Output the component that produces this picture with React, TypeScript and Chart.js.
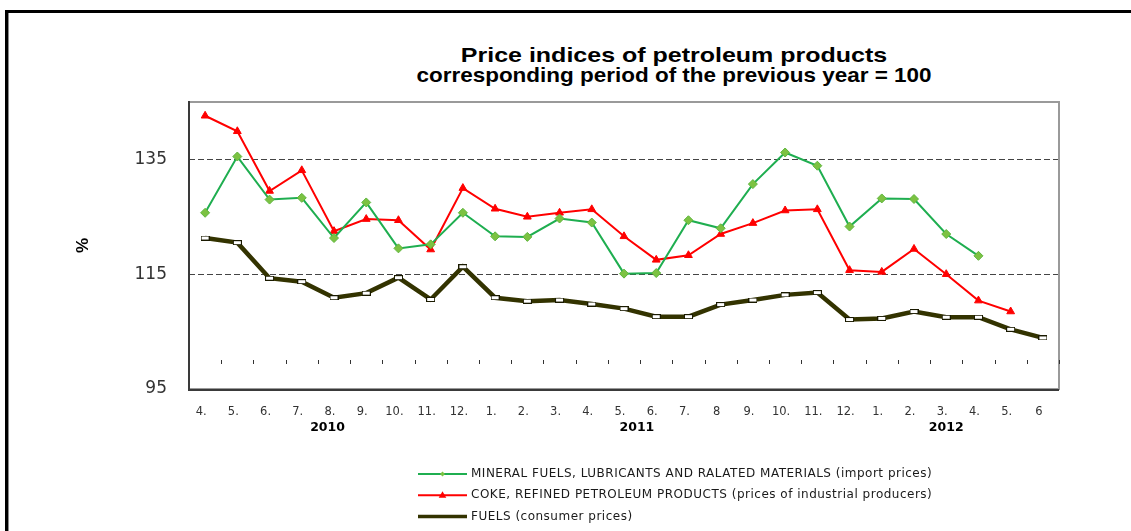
import React, { useEffect, useRef } from 'react';
import { Chart, registerables } from 'chart.js';

Chart.register(...registerables);

// ---- data ----
const categories = ['4.', '5.', '6.', '7.', '8.', '9.', '10.', '11.', '12.', '1.', '2.', '3.', '4.', '5.', '6.', '7.', '8', '9.', '10.', '11.', '12.', '1.', '2.', '3.', '4.', '5.', '6'];
const mineralFuels = [125.7, 135.5, 128.0, 128.3, 121.3, 127.5, 119.5, 120.2, 125.7, 121.6, 121.5, 124.7, 124.0, 115.1, 115.2, 124.4, 123.0, 130.7, 136.2, 133.9, 123.3, 128.2, 128.1, 122.0, 118.2, null, null];
const cokeRefined = [142.6, 139.9, 129.5, 133.1, 122.5, 124.6, 124.4, 119.3, 130.0, 126.4, 125.0, 125.7, 126.3, 121.6, 117.5, 118.3, 122.0, 123.9, 126.1, 126.3, 115.7, 115.4, 119.4, 115.0, 110.4, 108.5, null];
const fuelsConsumer = [121.3, 120.5, 114.3, 113.7, 110.9, 111.7, 114.4, 110.6, 116.3, 110.9, 110.3, 110.5, 109.8, 109.0, 107.6, 107.6, 109.7, 110.5, 111.4, 111.8, 107.1, 107.3, 108.5, 107.5, 107.5, 105.4, 103.9];
const seriesLabels = [
  'MINERAL FUELS, LUBRICANTS AND RALATED MATERIALS (import prices)',
  'COKE, REFINED PETROLEUM PRODUCTS (prices of industrial producers)',
  'FUELS (consumer prices)',
];
const yTicks = [95, 115, 135];
const yMin = 95;
const yMax = 145;
const axisCrossing = 100;
const years = ['2010', '2011', '2012'];
const yearCenters = [3.8, 13.4, 23.0];
const titleLines = ['Price indices of petroleum products', 'corresponding period of the previous year = 100'];
const yAxisTitle = '%';

function makeRectMarker() {
  const c = document.createElement('canvas');
  c.width = 9;
  c.height = 5;
  const ctx = c.getContext('2d')!;
  ctx.fillStyle = '#ffffff';
  ctx.fillRect(1, 1, 7, 3);
  ctx.strokeStyle = '#1a1a00';
  ctx.lineWidth = 1;
  ctx.strokeRect(0.5, 0.5, 8, 4);
  return c;
}

const decorPlugin = {
  id: 'decor',
  beforeDatasetsDraw(chart: any) {
    const { ctx, chartArea: a, scales } = chart;
    const xs = scales.x;
    const ys = scales.y;
    ctx.save();
    // plot border
    ctx.strokeStyle = '#9a9a9a';
    ctx.lineWidth = 2;
    ctx.strokeRect(a.left, a.top, a.right - a.left, a.bottom - a.top);
    ctx.strokeStyle = '#3a3a3a';
    ctx.beginPath();
    ctx.moveTo(a.left, a.top - 1);
    ctx.lineTo(a.left, a.bottom + 1);
    ctx.lineTo(a.right, a.bottom + 1);
    ctx.stroke();
    // category boundary ticks on the crossing axis
    const yc = Math.round(ys.getPixelForValue(axisCrossing));
    ctx.strokeStyle = '#333';
    ctx.lineWidth = 1;
    for (let i = 1; i <= categories.length; i++) {
      const px = Math.round(xs.getPixelForValue(i - 0.5)) + 0.5;
      ctx.beginPath();
      ctx.moveTo(px, yc);
      ctx.lineTo(px, yc + 4);
      ctx.stroke();
    }
    ctx.restore();
  },
  afterDraw(chart: any) {
    const { ctx, chartArea: a, scales } = chart;
    const xs = scales.x;
    ctx.save();
    // year labels
    ctx.fillStyle = '#000';
    ctx.font = 'bold 12.5px "DejaVu Sans"';
    ctx.textAlign = 'center';
    ctx.textBaseline = 'middle';
    years.forEach((yr, i) => {
      ctx.fillText(yr, xs.getPixelForValue(yearCenters[i]), a.bottom + 38.5);
    });
    // legend
    const lx = 418;
    const sw = 49;
    const tx = 471;
    const y0 = 474;
    const dy = 21.3;
    chart.data.datasets.forEach((ds: any, i: number) => {
      const y = y0 + i * dy;
      ctx.strokeStyle = ds.borderColor;
      ctx.lineWidth = ds.legendLineWidth;
      ctx.beginPath();
      ctx.moveTo(lx, y);
      ctx.lineTo(lx + sw, y);
      ctx.stroke();
      const cx = lx + sw / 2;
      if (ds.pointStyle === 'rectRot') {
        const r = 2.5;
        ctx.fillStyle = ds.pointBackgroundColor;
        ctx.beginPath();
        ctx.moveTo(cx - r, y);
        ctx.lineTo(cx, y - r);
        ctx.lineTo(cx + r, y);
        ctx.lineTo(cx, y + r);
        ctx.closePath();
        ctx.fill();
      } else if (ds.pointStyle === 'triangle') {
        const r = 4;
        ctx.fillStyle = ds.pointBackgroundColor;
        ctx.beginPath();
        ctx.moveTo(cx, y - r);
        ctx.lineTo(cx + r * 0.95, y + r * 0.6);
        ctx.lineTo(cx - r * 0.95, y + r * 0.6);
        ctx.closePath();
        ctx.fill();
      }
      ctx.fillStyle = '#1a1a1a';
      ctx.font = '12px "DejaVu Sans"';
      (ctx as any).letterSpacing = '0.5px';
      ctx.textAlign = 'left';
      ctx.textBaseline = 'middle';
      ctx.fillText(ds.label, tx, y);
      (ctx as any).letterSpacing = '0px';
    });
    ctx.restore();
  },
};

export default function App() {
  const ref = useRef<HTMLCanvasElement>(null);

  useEffect(() => {
    const prevMargin = document.body.style.margin;
    document.body.style.margin = '0';
    Chart.defaults.font.family = '"DejaVu Sans", sans-serif';
    const rectMarker = makeRectMarker();
    const chart = new Chart(ref.current!, {
      type: 'line',
      data: {
        labels: categories,
        datasets: [
          {
            label: seriesLabels[0],
            data: mineralFuels,
            borderColor: '#1fae50',
            backgroundColor: '#7cc242',
            borderWidth: 2,
            pointStyle: 'rectRot',
            pointRadius: 4.5,
            pointBackgroundColor: '#7cc242',
            pointBorderColor: '#5db53c',
            pointBorderWidth: 1,
            tension: 0,
            legendLineWidth: 2,
          } as any,
          {
            label: seriesLabels[1],
            data: cokeRefined,
            borderColor: '#ff0000',
            backgroundColor: '#ff0000',
            borderWidth: 2,
            pointStyle: 'triangle',
            pointRadius: 4.5,
            pointBackgroundColor: '#ff0000',
            pointBorderColor: '#ff0000',
            pointBorderWidth: 1,
            tension: 0,
            legendLineWidth: 2,
          } as any,
          {
            label: seriesLabels[2],
            data: fuelsConsumer,
            borderColor: '#333300',
            backgroundColor: '#333300',
            borderWidth: 4.5,
            pointStyle: rectMarker,
            pointRadius: 4,
            tension: 0,
            legendLineWidth: 3.5,
          } as any,
        ],
      },
      options: {
        animation: false,
        responsive: false,
        devicePixelRatio: 1,
        layout: { padding: { left: 60, right: 72, top: 102, bottom: 92 } },
        plugins: {
          legend: { display: false },
          tooltip: { enabled: false },
          title: { display: false },
        },
        scales: {
          x: {
            type: 'category',
            offset: true,
            grid: { display: false, drawTicks: false, tickLength: 0 },
            border: { display: false },
            ticks: {
              autoSkip: false,
              maxRotation: 0,
              minRotation: 0,
              padding: 16,
              labelOffset: -4,
              color: '#333',
              font: { size: 11.5, family: '"DejaVu Sans"' },
            },
            afterFit: (s: any) => {
              s.height = 50;
            },
          },
          y: {
            type: 'linear',
            min: yMin,
            max: yMax,
            afterBuildTicks: (s: any) => {
              s.ticks = yTicks.map((v) => ({ value: v }));
            },
            afterFit: (s: any) => {
              s.width = 129;
            },
            grid: {
              drawTicks: false,
              tickLength: 0,
              lineWidth: 1,
              color: (c: any) => (c.tick && c.tick.value === yMin ? 'rgba(0,0,0,0)' : '#444'),
            },
            border: { display: false, dash: [6, 3] },
            ticks: {
              padding: 22,
              color: '#333',
              font: { size: 17, family: '"DejaVu Sans"' },
            },
            title: {
              display: true,
              text: yAxisTitle,
              color: '#000',
              padding: { top: 13, bottom: 0 },
              font: { size: 17, weight: 'bold', family: '"Liberation Sans"' },
            },
          },
        },
      },
      plugins: [decorPlugin],
    } as any);
    return () => {
      chart.destroy();
      document.body.style.margin = prevMargin;
    };
  }, []);

  const titleStyle: React.CSSProperties = {
    position: 'absolute',
    left: 674,
    whiteSpace: 'nowrap',
    font: 'bold 21px "Liberation Sans", Arial, sans-serif',
    lineHeight: '21px',
    color: '#000',
  };

  return (
    <div style={{ position: 'fixed', left: 0, top: 0, width: 1131, height: 531, background: '#fff', overflow: 'hidden' }}>
      <div
        style={{
          position: 'absolute',
          left: 5,
          top: 10,
          width: 1126,
          height: 521,
          borderTop: '3px solid #000',
          borderLeft: '3px solid #000',
          boxSizing: 'border-box',
        }}
      />
      <div style={{ position: 'absolute', left: 8, top: 13, width: 1, height: 518, background: '#8c8c8c' }} />
      <div style={{ ...titleStyle, top: 44, transform: 'translateX(-50%) scaleX(1.19)' }}>{titleLines[0]}</div>
      <div style={{ ...titleStyle, top: 64, transform: 'translateX(-50%) scaleX(1.07)' }}>{titleLines[1]}</div>
      <canvas
        ref={ref}
        width={1131}
        height={531}
        style={{ position: 'absolute', left: 0, top: 0, width: 1131, height: 531 }}
      />
    </div>
  );
}
